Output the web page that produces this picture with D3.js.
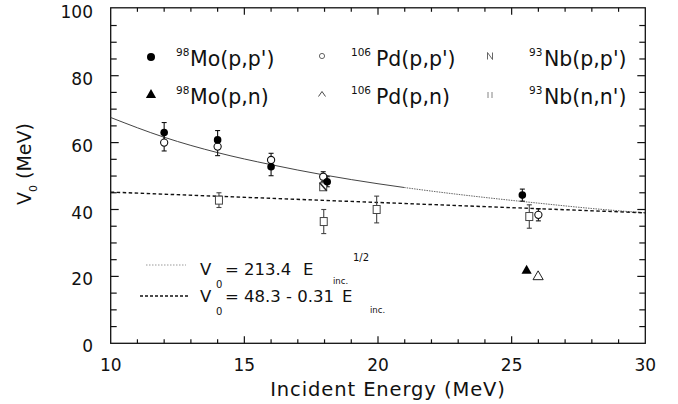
<!DOCTYPE html>
<html><head><meta charset="utf-8">
<script src="https://cdn.jsdelivr.net/npm/d3@7"></script>
<style>
html,body{margin:0;padding:0;background:#fff;}
svg{display:block;font-family:"DejaVu Sans",sans-serif;}
</style></head>
<body>
<svg id="chart" width="678" height="404"></svg>
<script>
// ---- data ----
const xTicks = [10, 15, 20, 25, 30];
const yTicks = [0, 20, 40, 60, 80, 100];

const moPP_E = [12, 14, 16, 18.1, 25.4];
const moPP_V = [63, 60.8, 52.8, 48.3, 44.3];
const moPP_err = [3, 2.8, 2.7, 1.5, 1.8];

const pdPP_E = [12, 14, 16, 17.95, 26];
const pdPP_V = [60, 58.8, 54.8, 49.8, 38.4];
const pdPP_err = [2.5, 2.7, 2, 1.5, 1.8];

const nbPP_E = [17.95];
const nbPP_V = [46.8];

const nbNN_E = [14.05, 17.97, 19.95, 25.66];
const nbNN_V = [42.8, 36.4, 40.0, 37.9];
const nbNN_err = [2.2, 3.6, 4, 3.5];

const moPN_E = [25.56];
const moPN_V = [21.7];
const pdPN_E = [25.99];
const pdPN_V = [19.9];

// fitted curves
const fitSqrt_E = [10, 12, 14, 16, 18, 20, 22, 24, 26, 28, 30];
const fitSqrt_V = [67.5, 61.6, 57.0, 53.4, 50.3, 47.7, 45.5, 43.6, 41.9, 40.3, 39.0];
const fitLin_E = [10, 30];
const fitLin_V = [45.2, 39.0];

// ---- drawing ----
const svg = d3.select("#chart");
const X0 = 110.7, X1 = 645.3, Y0 = 343.3, Y1 = 8.8;
const x = d3.scaleLinear().domain([10, 30]).range([X0, X1]);
const y = d3.scaleLinear().domain([0, 100]).range([Y0, Y1]);

const g = svg.append("g");

// frame
g.append("rect").attr("x", X0).attr("y", y(100) - 1).attr("width", X1 - X0).attr("height", Y0 - y(100) + 1)
  .attr("fill", "none").attr("stroke", "#111").attr("stroke-width", 1.3);

// ticks bottom/top
const xMinor = d3.range(11, 30, 1);
xMinor.forEach(v => {
  const major = v % 5 === 0;
  const len = major ? 7 : 4;
  g.append("line").attr("x1", x(v)).attr("x2", x(v)).attr("y1", Y0).attr("y2", Y0 - len).attr("stroke", "#111").attr("stroke-width", 1.2);
  g.append("line").attr("x1", x(v)).attr("x2", x(v)).attr("y1", y(100) - 1).attr("y2", y(100) - 1 + len).attr("stroke", "#111").attr("stroke-width", 1.2);
});
const yMinor = d3.range(5, 100, 5);
yMinor.forEach(v => {
  const major = v % 20 === 0;
  const len = major ? 8 : 6;
  g.append("line").attr("x1", X0).attr("x2", X0 + len).attr("y1", y(v)).attr("y2", y(v)).attr("stroke", "#111").attr("stroke-width", 1.2);
  g.append("line").attr("x1", X1).attr("x2", X1 - len).attr("y1", y(v)).attr("y2", y(v)).attr("stroke", "#111").attr("stroke-width", 1.2);
});

// tick labels
g.selectAll(".xl").data(xTicks).enter().append("text")
  .attr("x", d => x(d)).attr("y", 371).attr("text-anchor", "middle")
  .attr("font-size", 17).attr("fill", "#111").text(d => d);
g.selectAll(".yl").data(yTicks).enter().append("text")
  .attr("x", 93).attr("y", d => y(d) + 9).attr("text-anchor", "end")
  .attr("font-size", 17).attr("fill", "#111").text(d => d);

// axis titles
g.append("text").attr("x", (X0 + X1) / 2 + 10).attr("y", 396).attr("text-anchor", "middle")
  .attr("font-size", 19.5).attr("letter-spacing", 0.9).attr("fill", "#111").text("Incident Energy (MeV)");
const yt = g.append("text").attr("transform", "translate(31,205) rotate(-90)")
  .attr("font-size", 19).attr("fill", "#111");
yt.append("tspan").text("V");
yt.append("tspan").attr("font-size", 11).attr("dy", 6).text("0");
yt.append("tspan").attr("dy", -6).text(" (MeV)");

// fit lines
const lineSqrt = d3.line().x((d, i) => x(fitSqrt_E[i])).y(d => y(d)).curve(d3.curveMonotoneX);
const defs = svg.append("defs");
defs.append("clipPath").attr("id", "cl").append("rect").attr("x", 0).attr("y", 0).attr("width", x(21)).attr("height", 404);
defs.append("clipPath").attr("id", "cr").append("rect").attr("x", x(21)).attr("y", 0).attr("width", 678).attr("height", 404);
g.append("path").attr("d", lineSqrt(fitSqrt_V)).attr("fill", "none").attr("stroke", "#444").attr("stroke-width", 1).attr("clip-path", "url(#cl)");
g.append("path").attr("d", lineSqrt(fitSqrt_V)).attr("fill", "none").attr("stroke", "#666").attr("stroke-width", 1).attr("stroke-dasharray", "1.5,1").attr("clip-path", "url(#cr)");

const lineLin = d3.line().x((d, i) => x(fitLin_E[i])).y(d => y(d));
g.append("path").attr("d", lineLin(fitLin_V)).attr("fill", "none").attr("stroke", "#111").attr("stroke-width", 1.4).attr("stroke-dasharray", "3.5,2.5");

// error bars
function errBars(E, V, err, color) {
  E.forEach((e, i) => {
    const cx = x(e), t = y(V[i] + err[i]), b = y(V[i] - err[i]);
    g.append("line").attr("x1", cx).attr("x2", cx).attr("y1", t).attr("y2", b).attr("stroke", color).attr("stroke-width", 1.1);
    [t, b].forEach(yy => g.append("line").attr("x1", cx - 2.5).attr("x2", cx + 2.5).attr("y1", yy).attr("y2", yy).attr("stroke", color).attr("stroke-width", 1.1));
  });
}
errBars(nbNN_E, nbNN_V, nbNN_err, "#444");
errBars(moPP_E, moPP_V, moPP_err, "#111");
errBars(pdPP_E, pdPP_V, pdPP_err, "#111");

// markers
const tri = d3.symbol().type(d3.symbolTriangle).size(45);
function squares(E, V, diag) {
  E.forEach((e, i) => {
    const cx = x(e), cy = y(V[i]);
    g.append("rect").attr("x", cx - 3.5).attr("y", cy - 4).attr("width", 7).attr("height", 8)
      .attr("fill", "#fff").attr("stroke", "#444").attr("stroke-width", 1);
    if (diag) g.append("line").attr("x1", cx - 3.5).attr("y1", cy - 4).attr("x2", cx + 3.5).attr("y2", cy + 4).attr("stroke", "#222").attr("stroke-width", 1.4);
  });
}
squares(nbNN_E, nbNN_V, false);
squares(nbPP_E, nbPP_V, true);

pdPP_E.forEach((e, i) => g.append("circle").attr("cx", x(e)).attr("cy", y(pdPP_V[i])).attr("r", 3.6)
  .attr("fill", "#fff").attr("stroke", "#111").attr("stroke-width", 1.1));
moPP_E.forEach((e, i) => g.append("circle").attr("cx", x(e)).attr("cy", y(moPP_V[i])).attr("r", 3.8).attr("fill", "#000"));
moPN_E.forEach((e, i) => g.append("path").attr("d", tri).attr("transform", `translate(${x(e)},${y(moPN_V[i])})`).attr("fill", "#000"));
pdPN_E.forEach((e, i) => g.append("path").attr("d", tri).attr("transform", `translate(${x(e)},${y(pdPN_V[i])})`).attr("fill", "#fff").attr("stroke", "#222").attr("stroke-width", 1));

// legend (top)
const leg = [
  {sx: 151, sy: 57, sup: "98", supX: 176, txt: "Mo(p,p')", tx: 190, by: 66, sym: "fcirc"},
  {sx: 322, sy: 56, sup: "106", supX: 351, txt: "Pd(p,p')", tx: 376, by: 66, sym: "ocirc"},
  {sx: 490, sy: 56, sup: "93", supX: 529, txt: "Nb(p,p')", tx: 544, by: 66, sym: "nsq"},
  {sx: 151, sy: 95, sup: "98", supX: 176, txt: "Mo(p,n)", tx: 190, by: 104, sym: "ftri"},
  {sx: 322, sy: 94, sup: "106", supX: 351, txt: "Pd(p,n)", tx: 376, by: 104, sym: "otri"},
  {sx: 490, sy: 95, sup: "93", supX: 529, txt: "Nb(n,n')", tx: 544, by: 104, sym: "osq"}
];
leg.forEach(l => {
  if (l.sym === "fcirc") g.append("circle").attr("cx", l.sx).attr("cy", l.sy).attr("r", 4).attr("fill", "#000");
  if (l.sym === "ocirc") g.append("circle").attr("cx", l.sx).attr("cy", l.sy).attr("r", 2.6).attr("fill", "none").attr("stroke", "#555").attr("stroke-width", 0.9);
  if (l.sym === "ftri") g.append("path").attr("d", tri).attr("transform", `translate(${l.sx},${l.sy})`).attr("fill", "#000");
  if (l.sym === "otri") g.append("path").attr("d", "M-3.5,2.5L0,-2.5L3.5,2.5").attr("transform", `translate(${l.sx},${l.sy})`).attr("fill", "none").attr("stroke", "#333").attr("stroke-width", 0.9);
  if (l.sym === "nsq") g.append("path").attr("d", "M-2.5,3.5V-3.5L2.5,3.5V-3.5").attr("transform", `translate(${l.sx},${l.sy})`).attr("fill", "none").attr("stroke", "#555").attr("stroke-width", 0.9);
  if (l.sym === "osq") g.append("path").attr("d", "M-2,-3V3M2,-3V3").attr("transform", `translate(${l.sx},${l.sy})`).attr("fill", "none").attr("stroke", "#777").attr("stroke-width", 0.9);
  const t = g.append("text").attr("y", l.by).attr("fill", "#111");
  t.append("tspan").attr("x", l.supX).attr("dy", -10).attr("font-size", 10.5).text(l.sup);
  t.append("tspan").attr("x", l.tx).attr("dy", 10).attr("font-size", 20.5).text(l.txt);
});

// formula legend
g.append("line").attr("x1", 146).attr("x2", 186).attr("y1", 265).attr("y2", 265).attr("stroke", "#999").attr("stroke-width", 1).attr("stroke-dasharray", "1.5,1.5");
g.append("line").attr("x1", 140).attr("x2", 189).attr("y1", 296).attr("y2", 296).attr("stroke", "#111").attr("stroke-width", 1.3).attr("stroke-dasharray", "3,2");
function formula(parts) {
  parts.forEach(p => g.append("text").attr("x", p[0]).attr("y", p[1]).attr("font-size", p[2]).attr("fill", "#111").text(p[3]));
}
formula([[200, 275, 16.5, "V"], [216, 288, 10, "0"], [225, 275, 16.5, "= 213.4"], [303, 275, 16.5, "E"], [333, 284, 8.5, "inc."], [353, 261, 10, "1/2"]]);
formula([[200, 302, 16.5, "V"], [216, 315, 10, "0"], [225, 302, 16.5, "= 48.3 - 0.31"], [342, 302, 16.5, "E"], [370, 313, 8.5, "inc."]]);
</script>
</body></html>
